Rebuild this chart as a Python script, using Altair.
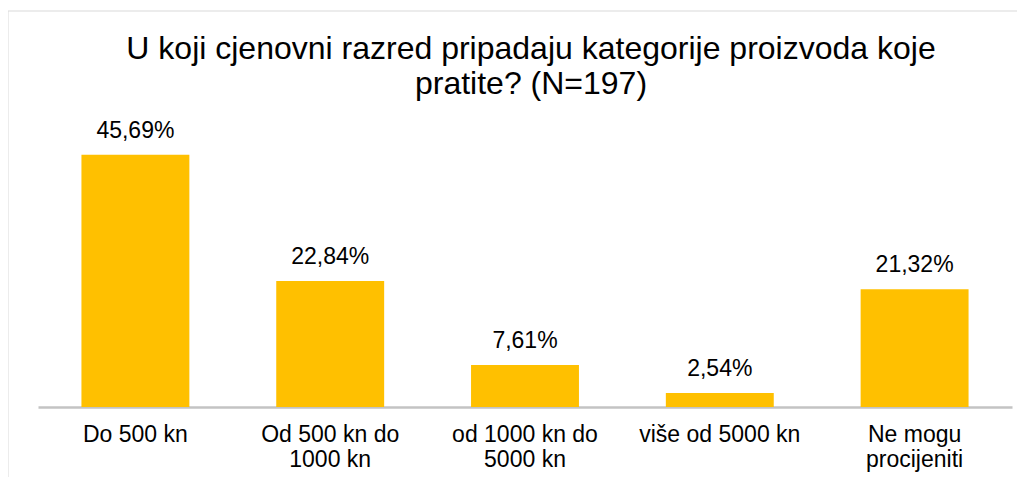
import altair as alt
import pandas as pd

categories = [
    "Do 500 kn",
    "Od 500 kn do\n1000 kn",
    "od 1000 kn do\n5000 kn",
    "više od 5000 kn",
    "Ne mogu\nprocijeniti",
]
values = [45.69, 22.84, 7.61, 2.54, 21.32]
value_labels = ["45,69%", "22,84%", "7,61%", "2,54%", "21,32%"]

df = pd.DataFrame({"cat": categories, "val": values, "lbl": value_labels})

FONT = "Liberation Sans"

x_enc = alt.X(
    "cat:N",
    sort=categories,
    title=None,
    scale=alt.Scale(paddingInner=0.446, paddingOuter=0.223),
    axis=alt.Axis(
        labelAngle=0,
        labelExpr="split(datum.label, '\\n')",
        labelFont=FONT,
        labelFontSize=23,
        labelColor="#000000",
        labelLineHeight=25,
        labelPadding=16,
        ticks=False,
        tickSize=0,
        domainColor="#c3c3c3",
        domainWidth=2.5,
        grid=False,
        labelLimit=300,
    ),
)
y_enc = alt.Y("val:Q", scale=alt.Scale(domain=[0, 50]), axis=None)

bars = alt.Chart(df).mark_bar(color="#FFC000").encode(x=x_enc, y=y_enc)
labels = alt.Chart(df).mark_text(
    font=FONT, fontSize=23, color="#000000", baseline="alphabetic", dy=-17
).encode(x=alt.X("cat:N", sort=categories), y="val:Q", text="lbl:N")

one = pd.DataFrame({"a": [0]})
frame_top = alt.Chart(one).mark_rule(color="#d9d9d9", strokeWidth=1, clip=False).encode(
    x=alt.value(-30), x2=alt.value(1000), y=alt.value(-120)
)
frame_left = alt.Chart(one).mark_rule(color="#d9d9d9", strokeWidth=1, clip=False).encode(
    x=alt.value(-30), y=alt.value(-120), y2=alt.value(400)
)

chart = (
    alt.layer(frame_top, frame_left, bars, labels)
    .properties(
        width=974,
        height=276,
        title=alt.TitleParams(
            text=[
                "U koji cjenovni razred pripadaju kategorije proizvoda koje",
                "pratite? (N=197)",
            ],
            font=FONT,
            fontSize=32,
            fontWeight="normal",
            color="#000000",
            lineHeight=35,
            anchor="middle",
            dx=6,
            offset=-90,
        ),
        autosize=alt.AutoSizeParams(type="none"),
        padding={"left": 30, "top": 123, "right": 5, "bottom": 70},
    )
    .configure_view(stroke=None)
)

chart.save("out.html", embed_options={"renderer": "svg", "actions": False})
